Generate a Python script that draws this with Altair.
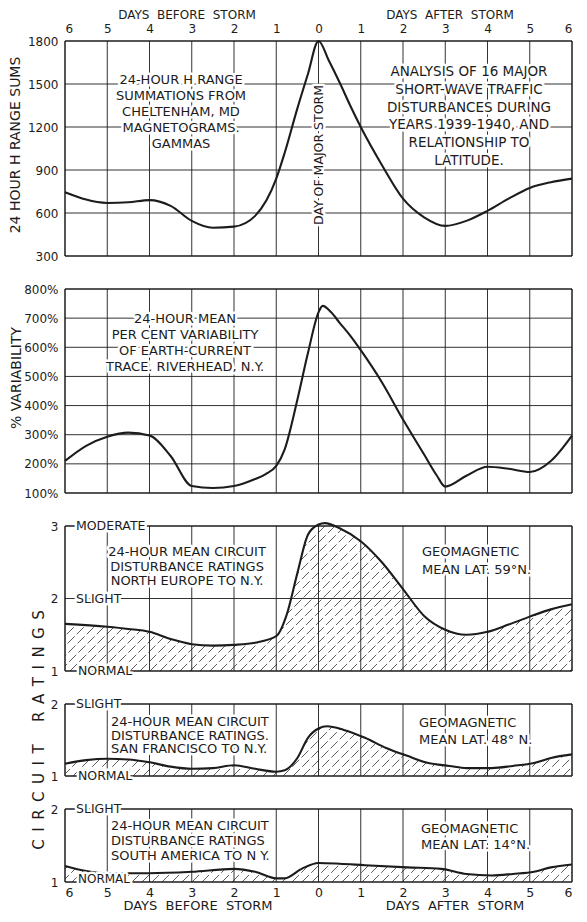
import altair as alt
import numpy as np
import pandas as pd

# ---------------- data ----------------
DAY_TICKS = [-6, -5, -4, -3, -2, -1, 0, 1, 2, 3, 4, 5, 6]

H_DAYS = [-6, -5, -4.5, -4, -3.5, -3, -2.5, -2, -1.5, -1, -0.8, -0.5, -0.25, 0,
          0.25, 0.5, 0.75, 1, 1.5, 2, 2.5, 3, 3.5, 4, 4.5, 5, 5.5, 6]
H_SUMS = [745, 670, 675, 690, 650, 545, 497, 505, 580, 840, 1020, 1330, 1570, 1800,
          1660, 1510, 1350, 1200, 935, 700, 570, 510, 545, 615, 700, 775, 815, 840]
H_TICKS = [300, 600, 900, 1200, 1500, 1800]

VAR_DAYS = [-6, -5.5, -5, -4.5, -4, -3.5, -3, -2.5, -2, -1.5, -1.25, -1, -0.8, -0.5,
            -0.25, 0, 0.1, 0.3, 0.5, 0.75, 1, 1.5, 2, 2.5, 2.8, 3, 3.5, 4, 4.5, 5, 5.5, 6]
VAR_PCT = [210, 262, 293, 307, 297, 227, 124, 117, 124, 148, 165, 193, 250, 420,
           580, 720, 742, 720, 684, 640, 590, 480, 352, 232, 160, 122, 159, 190, 183, 172, 210, 297]
VAR_TICKS = [100, 200, 300, 400, 500, 600, 700, 800]

NE_DAYS = [-6, -5, -4.5, -4, -3.5, -3, -2.5, -2, -1.5, -1, -0.75, -0.5, -0.25, 0,
           0.15, 0.5, 1, 1.5, 2, 2.5, 3, 3.5, 4, 4.5, 5, 5.5, 6]
NE_RATING = [1.65, 1.61, 1.58, 1.54, 1.44, 1.37, 1.35, 1.36, 1.39, 1.48, 1.78, 2.35, 2.88, 3.02,
             3.04, 2.97, 2.79, 2.50, 2.13, 1.76, 1.57, 1.50, 1.54, 1.64, 1.75, 1.85, 1.92]

SF_DAYS = [-6, -5.5, -5, -4.5, -4, -3.5, -3, -2.5, -2, -1.5, -1, -0.8, -0.5, -0.25,
           0, 0.2, 0.6, 1.1, 1.6, 2.1, 2.6, 3.1, 3.5, 4.1, 4.6, 5.1, 5.5, 6]
SF_RATING = [1.17, 1.22, 1.24, 1.23, 1.19, 1.13, 1.10, 1.11, 1.15, 1.10, 1.06, 1.08, 1.25, 1.53,
             1.66, 1.69, 1.64, 1.53, 1.39, 1.28, 1.18, 1.14, 1.11, 1.11, 1.14, 1.18, 1.25, 1.30]

SA_DAYS = [-6, -5.5, -5, -4, -3, -2, -1.5, -1, -0.8, -0.4, 0, 0.5, 1.1, 2.1, 2.9,
           3.5, 4.1, 4.6, 5.1, 5.5, 6]
SA_RATING = [1.22, 1.15, 1.12, 1.12, 1.14, 1.18, 1.14, 1.05, 1.05, 1.18, 1.26, 1.25, 1.23, 1.20, 1.18,
             1.11, 1.09, 1.11, 1.14, 1.20, 1.24]

# ---------------- layout / style ----------------
W = 507
HEIGHTS = [215, 204, 145, 72, 73]
FONT = "DejaVu Sans"
INK = "#1c1c1c"
NB = "\u00a0"
EN = "\u2002"
XS = alt.Scale(domain=[-6, 6], nice=False, zero=False)
ONE = alt.Data(values=[{"k": 0}])


class D:
    """A position given in data units (goes through the panel's scale)."""
    def __init__(self, v):
        self.v = v


def txt_layers(lines, x, y, size, align, lh, angle, halo):
    kw = dict(text=lines, font=FONT, fontSize=size, align=align,
              baseline="middle", angle=angle)
    if lh:
        kw["lineHeight"] = lh
    base = alt.Chart(ONE).encode(x=x, y=y)
    out = []
    if halo:
        out.append(base.mark_text(color="white", stroke="white", strokeWidth=5,
                                  strokeJoin="round", **kw))
    out.append(base.mark_text(color=INK, **kw))
    return out


def note(lines, x, y, size=13, align="center", lh=None, angle=0, halo=True):
    def make(xax, yax, ys):
        xx = alt.XDatum(x.v, scale=XS, axis=xax) if isinstance(x, D) else x
        yy = alt.YDatum(y.v, scale=ys, axis=yax) if isinstance(y, D) else y
        return txt_layers(lines, xx, yy, size, align, lh, angle, halo)
    return make


def panel(days, vals, ydom, yticks, h, xax, yax, hatched=False, notes=()):
    ys = alt.Scale(domain=ydom, nice=False, zero=False)
    df = pd.DataFrame({"day": days, "v": vals, "top": ydom[1]})
    X = lambda f: alt.X(f, scale=XS, axis=xax)
    Y = lambda f: alt.Y(f, scale=ys, axis=yax, stack=None)
    layers = []
    if hatched:
        dx = h * 12 / W                      # 45 degree strokes
        starts = np.arange(-6 - dx, 6, 10 * 12 / W)
        hd = pd.DataFrame({"hx": starts, "hx2": starts + dx,
                           "hy": ydom[0], "hy2": ydom[1]})
        layers.append(alt.Chart(hd).mark_rule(color="#333333", strokeWidth=0.8,
                                              strokeDash=[10, 3], clip=True).encode(
            x=X("hx:Q"), x2="hx2:Q", y=Y("hy:Q"), y2="hy2:Q"))
        layers.append(alt.Chart(df).mark_area(color="white", opacity=1,
                                              interpolate="monotone").encode(
            x=X("day:Q"), y=Y("v:Q"), y2="top:Q"))
    vx = pd.DataFrame({"gx": DAY_TICKS[1:-1]})
    layers.append(alt.Chart(vx).mark_rule(color=INK, strokeWidth=0.9).encode(x=X("gx:Q")))
    if len(yticks) > 2:
        hy = pd.DataFrame({"gy": yticks[1:-1]})
        layers.append(alt.Chart(hy).mark_rule(color=INK, strokeWidth=0.9).encode(y=Y("gy:Q")))
    bx = pd.DataFrame({"bx": [DAY_TICKS[0], DAY_TICKS[-1]]})
    by = pd.DataFrame({"by": [ydom[0], ydom[1]]})
    layers.append(alt.Chart(bx).mark_rule(color=INK, strokeWidth=1.5).encode(x=X("bx:Q")))
    layers.append(alt.Chart(by).mark_rule(color=INK, strokeWidth=1.5).encode(y=Y("by:Q")))
    layers.append(alt.Chart(df).mark_line(color=INK, strokeWidth=2.1,
                                          interpolate="monotone").encode(
        x=X("day:Q"), y=Y("v:Q")))
    for n in notes:
        layers += n(xax, yax, ys)
    return alt.layer(*layers).properties(width=W, height=h)


def xaxis(orient, size, pad):
    return alt.Axis(orient=orient, values=DAY_TICKS, labelExpr="'' + abs(datum.value)",
                    grid=False, ticks=False, domain=False, labelPadding=pad,
                    labelFontSize=size, labelFont=FONT, labelColor=INK,
                    labelFlush=True, labelOverlap=False, title=None)


def yaxis(values, expr="'' + datum.value"):
    return alt.Axis(values=values, grid=False, ticks=False, domain=False, labelPadding=7,
                    labelFontSize=12, labelFont=FONT, labelColor=INK, title=None,
                    labelExpr=expr, labelOverlap=False)


def spaced(words):
    return (EN * 3).join(EN.join(w) for w in words)


BEFORE = "DAYS" + NB * 2 + "BEFORE" + NB * 2 + "STORM"
AFTER = "DAYS" + NB * 2 + "AFTER" + NB * 2 + "STORM"

p1 = panel(H_DAYS, H_SUMS, [300, 1800], H_TICKS, HEIGHTS[0],
           xaxis("top", 12, 6), yaxis(H_TICKS),
           notes=[
               note(BEFORE, alt.value(122), alt.value(-26.5), size=12, halo=False),
               note(AFTER, alt.value(385), alt.value(-26.5), size=12, halo=False),
               note("24 HOUR H RANGE SUMS", alt.value(-49), alt.value(104), size=14,
                    angle=270, halo=False),
               note(["24-HOUR H RANGE", "SUMMATIONS FROM", "CHELTENHAM, MD",
                     "MAGNETOGRAMS.", "GAMMAS"], alt.value(116), alt.value(39), lh=16),
               note(["ANALYSIS OF 16 MAJOR", "SHORT-WAVE TRAFFIC", "DISTURBANCES DURING",
                     "YEARS 1939-1940, AND", "RELATIONSHIP TO", "LATITUDE."],
                    alt.value(404), alt.value(31), size=13.5, lh=17.8),
               note("DAY OF MAJOR STORM", D(0), alt.value(114), size=12.5, angle=270),
           ])

p2 = panel(VAR_DAYS, VAR_PCT, [100, 800], VAR_TICKS, HEIGHTS[1],
           None, yaxis(VAR_TICKS, "datum.value + '%'"),
           notes=[
               note("% VARIABILITY", alt.value(-48), alt.value(89), size=14, angle=270, halo=False),
               note(["24-HOUR MEAN", "PER CENT VARIABILITY", "OF EARTH-CURRENT",
                     "TRACE. RIVERHEAD, N.Y."], alt.value(120), alt.value(30), lh=16),
           ])

p3 = panel(NE_DAYS, NE_RATING, [1, 3], [1, 2, 3], HEIGHTS[2],
           None, yaxis([1, 2, 3]), hatched=True,
           notes=[
               note("MODERATE", alt.value(11), D(3), size=12.5, align="left"),
               note("SLIGHT", alt.value(11), D(2), size=12.5, align="left"),
               note("NORMAL", alt.value(13), D(1), size=12.5, align="left"),
               note(["24-HOUR MEAN CIRCUIT", "DISTURBANCE RATINGS", "NORTH EUROPE TO N.Y."],
                    alt.value(122), alt.value(26), lh=14.5),
               note(["GEOMAGNETIC", "MEAN LAT. 59°N."], alt.value(357), alt.value(26),
                    align="left", lh=18),
           ])

p4 = panel(SF_DAYS, SF_RATING, [1, 2], [1, 2], HEIGHTS[3],
           None, yaxis([1, 2]), hatched=True,
           notes=[
               note("SLIGHT", alt.value(11), D(2), size=12.5, align="left"),
               note("NORMAL", alt.value(13), D(1), size=12.5, align="left"),
               note(["24-HOUR MEAN CIRCUIT", "DISTURBANCE RATINGS.", "SAN FRANCISCO TO N.Y."],
                    alt.value(46), alt.value(18), align="left", lh=13.5),
               note(["GEOMAGNETIC", "MEAN LAT. 48° N."], alt.value(354), alt.value(19),
                    align="left", lh=17),
               note(spaced(["CIRCUIT", "RATINGS"]), alt.value(-26), alt.value(26),
                    size=15, angle=270, halo=False),
           ])

p5 = panel(SA_DAYS, SA_RATING, [1, 2], [1, 2], HEIGHTS[4],
           xaxis("bottom", 12.5, 4), yaxis([1, 2]), hatched=True,
           notes=[
               note("SLIGHT", alt.value(11), D(2), size=12.5, align="left"),
               note("NORMAL", alt.value(13), alt.value(HEIGHTS[4] - 3), size=12, align="left"),
               note(["24-HOUR MEAN CIRCUIT", "DISTURBANCE RATINGS", "SOUTH AMERICA TO N Y."],
                    alt.value(46), alt.value(17), align="left", lh=15),
               note(["GEOMAGNETIC", "MEAN LAT. 14°N."], alt.value(356), alt.value(20),
                    align="left", lh=16),
               note(BEFORE, alt.value(133), alt.value(HEIGHTS[4] + 24), size=13, halo=False),
               note(AFTER, alt.value(390), alt.value(HEIGHTS[4] + 24), size=13, halo=False),
           ])

chart = alt.vconcat(p1, p2, p3, p4, p5, spacing=33, bounds="flush").resolve_scale(
    y="independent").properties(padding=0, background="white").configure_view(stroke=None)

chart.save("out.html", embed_options={"renderer": "svg", "actions": False})
